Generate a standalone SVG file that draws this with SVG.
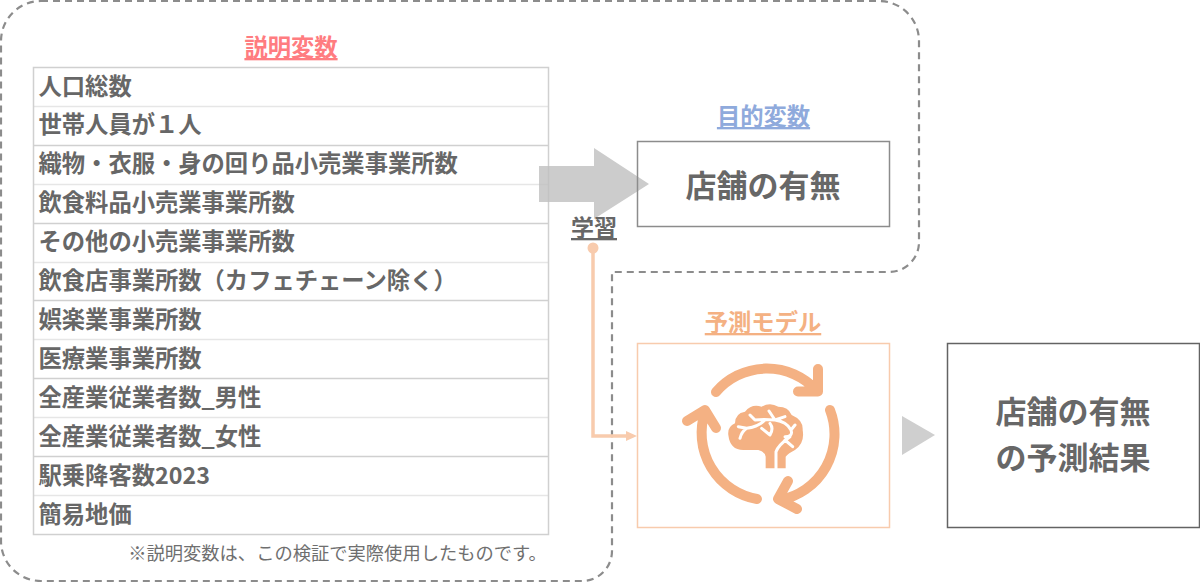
<svg xmlns="http://www.w3.org/2000/svg" width="1200" height="582" viewBox="0 0 1200 582">
<style>
text{font-family:"Noto Sans CJK JP","Noto Sans",sans-serif;font-weight:700;fill:#676767}
.r{font-size:23.300px}
.t{font-size:23.300px;text-decoration:underline}
.b{font-size:31px}
.c{text-anchor:middle}
.ln{fill:none;stroke:#e6e6e6;stroke-width:1.500}
.ld{fill:none;stroke:#d0d0d0;stroke-width:1.500}
.ic{fill:none;stroke:#f4b183;stroke-width:10;stroke-linecap:round;stroke-linejoin:round}
.v{fill:none;stroke:#fff;stroke-width:9;stroke-linecap:round;stroke-linejoin:round}
</style>
<rect width="1200" height="582" fill="#fff"/>
<g id="boundary"><path d="M41 1H879A40 40 0 0 1 919 41V242A30 30 0 0 1 889 272H612V551A30 30 0 0 1 582 581H41A40 40 0 0 1 1 541V41A40 40 0 0 1 41 1Z" fill="none" stroke="#8c8c8c" stroke-width="2.200" stroke-dasharray="7 5"/></g>
<g id="explanatory">
<text class="t c" x="291" y="56" style="fill:#ff7c80">説明変数</text>
<path class="ln" d="M33 106.500H549M33 184.500H549M33 262.500H549M33 339.500H549M33 417.500H549M33 495.500H549"/>
<path class="ld" d="M33 145.500H549M33 223.500H549M33 300.500H549M33 378.500H549M33 456.500H549"/>
<rect class="ld" x="33.500" y="67.500" width="515" height="467"/>
<text class="r" x="38.500" y="95">人口総数</text>
<text class="r" x="38.500" y="133">世帯人員が１人</text>
<text class="r" x="38.500" y="172">織物・衣服・身の回り品小売業事業所数</text>
<text class="r" x="38.500" y="211">飲食料品小売業事業所数</text>
<text class="r" x="38.500" y="250">その他の小売業事業所数</text>
<text class="r" x="38.500" y="289">飲食店事業所数（カフェチェーン除く）</text>
<text class="r" x="38.500" y="328">娯楽業事業所数</text>
<text class="r" x="38.500" y="367">医療業事業所数</text>
<text class="r" x="38.500" y="406">全産業従業者数_男性</text>
<text class="r" x="38.500" y="445">全産業従業者数_女性</text>
<text class="r" x="38.500" y="484">駅乗降客数2023</text>
<text class="r" x="38.500" y="523">簡易地価</text>
<text x="337.500" y="560" font-size="18.300" class="c" style="font-weight:400;fill:#6f6f6f">※説明変数は、この検証で実際使用したものです。</text>
</g>
<g id="connectors">
<polygon points="539,166 594,166 594,148 649,184 594,219 594,202 539,202" fill="#bfbfbf" fill-opacity=".8"/>
<path d="M593 248V436H628" fill="none" stroke="#f8cbad" stroke-width="3.500"/>
<circle cx="593" cy="248" r="5.500" fill="#f8cbad"/>
<polygon points="626,431 637,436 626,441" fill="#f8cbad"/>
<polygon points="902,416 935,435 902,455" fill="#cfcfcf"/>
<text class="c" x="594" y="236" font-size="23" style="text-decoration:underline">学習</text>
</g>
<g id="target">
<text class="t c" x="763.500" y="125" style="fill:#8faadc">目的変数</text>
<rect x="637.500" y="141.500" width="252" height="85" fill="none" stroke="#8c8c8c" stroke-width="1.500"/>
<text class="b c" x="763" y="197">店舗の有無</text>
</g>
<g id="model">
<text class="t c" x="763" y="331" style="fill:#f4b183">予測モデル</text>
<rect x="637.500" y="343.500" width="252" height="184" fill="#fff" stroke="#f8cbad" stroke-width="1.500"/>
<path class="ic" d="M716 392A67 67 0 0 1 816 390M818 369V391.500H798"/>
<path class="ic" d="M830 410A67 67 0 0 1 780 500M788 481L778 499L797 509"/>
<path class="ic" d="M757 499A67 67 0 0 1 705 412M687 421L705 410L716 428"/>
<g transform="translate(720 395) scale(.3333)">
<path d="M137 220V185Q135 170 115 165L70 165Q30 165 25 120Q22 95 45 85Q45 55 75 50Q95 25 125 35Q150 20 175 35Q205 35 215 60Q250 75 248 105Q255 145 225 165Q205 175 197 185V220Z" fill="#f4b183"/>
<path class="v" d="M90 60L105 75Q130 72 165 75M147 48L165 75L195 65M165 75Q200 80 213 105Q220 125 195 125M225 90L213 105M60 130Q65 110 80 100Q115 95 135 75M55 95L80 100M125 100L150 120Q162 100 150 85M168 225V170Q175 150 210 125M195 135L218 155"/>
</g>
</g>
<g id="result">
<rect x="947.500" y="343.500" width="252" height="184" fill="none" stroke="#636363" stroke-width="1.500"/>
<text class="b c" x="1073" y="423">店舗の有無</text>
<text class="b c" x="1073" y="469">の予測結果</text>
</g>
</svg>
